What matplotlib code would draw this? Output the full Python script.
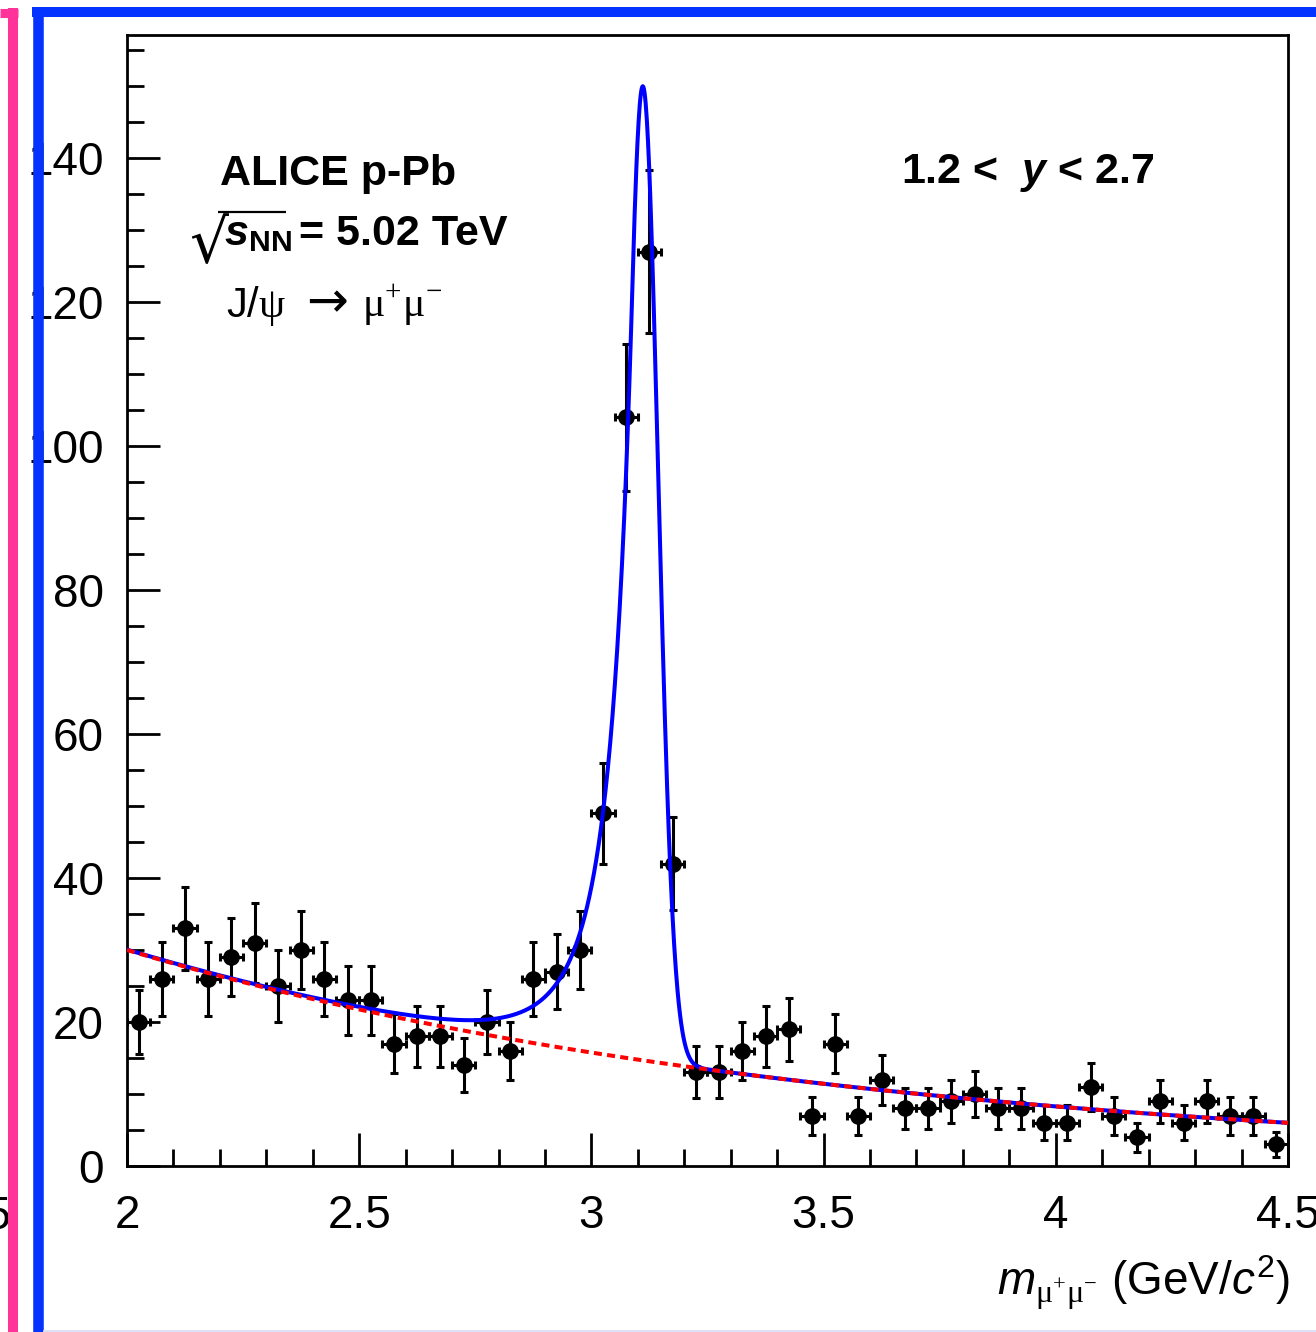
import numpy as np
import matplotlib.pyplot as plt
from matplotlib.lines import Line2D
from matplotlib.ticker import MultipleLocator, FixedLocator, FixedFormatter

plt.rcParams['font.family'] = ['Liberation Sans', 'DejaVu Sans']
plt.rcParams['mathtext.fontset'] = 'custom'
plt.rcParams['mathtext.rm'] = 'Liberation Serif'
plt.rcParams['mathtext.it'] = 'Liberation Sans:italic'
plt.rcParams['mathtext.bf'] = 'Liberation Sans:bold'
plt.rcParams['mathtext.bfit'] = 'Liberation Sans:italic:bold'
plt.rcParams['mathtext.sf'] = 'Liberation Sans'

# dimuon invariant mass spectrum, 50 MeV/c^2 bins from 2 to 4.5
bin_width = 0.05
mass_bins = np.arange(2.0, 4.5, bin_width) + bin_width / 2
counts = np.array([20, 26, 33, 26, 29, 31, 25, 30, 26, 23,
                   23, 17, 18, 18, 14, 20, 16, 26, 27, 30,
                   49, 104, 127, 42, 13, 13, 16, 18, 19, 7,
                   17, 7, 12, 8, 8, 9, 10, 8, 8, 6,
                   6, 11, 7, 4, 9, 6, 9, 7, 7, 3])

# fit parameters: exponential background + Crystal Ball signal
bkg_norm = 30.0      # background at m = 2 GeV/c^2
bkg_slope = 0.644
jpsi_amp = 135.3
jpsi_mean = 3.1107
jpsi_sigma = 0.033
cb_alpha = 0.7
cb_n = 4.0

x_ticks = [2, 2.5, 3, 3.5, 4, 4.5]
x_tick_labels = ['2', '2.5', '3', '3.5', '4', '4.5']
y_ticks = [0, 20, 40, 60, 80, 100, 120, 140]

blue = (0, 0, 1)
red = (1, 0, 0)
frame_blue = '#0433ff'
frame_pink = '#ff3399'

W, H = 1316, 1332
fig = plt.figure(figsize=(W / 100, H / 100), dpi=100)


def fx(px):
    return px / W


def fy(py):
    return 1 - py / H


def background(m):
    return bkg_norm * np.exp(-bkg_slope * (m - 2.0))


def crystal_ball(m):
    t = (m - jpsi_mean) / jpsi_sigma
    a = abs(cb_alpha)
    A = (cb_n / a) ** cb_n * np.exp(-a * a / 2)
    B = cb_n / a - a
    tail = A * np.clip(B - t, 1e-6, None) ** (-cb_n)
    core = np.exp(-t * t / 2)
    return jpsi_amp * np.where(t > -a, core, tail)


ax = fig.add_axes([fx(127), fy(1166), fx(1288) - fx(127), (1166 - 35) / H])

ax.errorbar(mass_bins, counts, xerr=bin_width / 2, yerr=np.sqrt(counts),
            fmt='o', color='black', ms=11, elinewidth=2.2,
            capsize=2.8, capthick=2.2, zorder=2)

m = np.linspace(2.0, 4.5, 2000)
ax.plot(m, background(m) + crystal_ball(m), color=blue, lw=2.9, zorder=3)
ax.plot(m, background(m), color=red, lw=2.9, dashes=(2, 1.3), zorder=4)

ax.set_xlim(2.0, 4.5)
ax.set_ylim(0, 157.08)

ax.xaxis.set_major_locator(FixedLocator(x_ticks))
ax.xaxis.set_major_formatter(FixedFormatter(x_tick_labels))
ax.xaxis.set_minor_locator(MultipleLocator(0.1))
ax.yaxis.set_major_locator(FixedLocator(y_ticks))
ax.yaxis.set_minor_locator(MultipleLocator(5))

ax.tick_params(which='both', direction='in', top=False, right=False,
               width=2, labelsize=33)
ax.tick_params(which='major', length=24)
ax.tick_params(which='minor', length=12)
ax.tick_params(axis='y', pad=16.5)
ax.tick_params(axis='x', pad=20)
for s in ax.spines.values():
    s.set_linewidth(2)

# labels
fig.text(fx(220), fy(185), 'ALICE p-Pb', fontsize=31, fontweight='bold',
         ha='left', va='baseline')

# sqrt(s_NN) = 5.02 TeV, radical sign with its bar
fig.text(fx(189), fy(263), '\u221a', fontsize=44, family='DejaVu Sans',
         ha='left', va='baseline')
fig.add_artist(Line2D([fx(218), fx(286)], [fy(211.5), fy(211.5)],
                      color='black', lw=1.6, solid_capstyle='butt'))
fig.text(fx(224), fy(245), r'$\mathbfit{s}_{\mathbf{NN}}$', fontsize=31,
         ha='left', va='baseline')
fig.text(fx(299), fy(245), '= 5.02 TeV', fontsize=31, fontweight='bold',
         ha='left', va='baseline')

# J/psi -> mu+ mu-
fig.text(fx(226), fy(317), r'J/$\mathrm{\psi}$', fontsize=30,
         ha='left', va='baseline')
fig.text(fx(327), fy(317), '\u2192', fontsize=36, family='DejaVu Sans',
         ha='center', va='baseline')
fig.text(fx(362), fy(317), r'$\mathrm{\mu}^{+}\mathrm{\mu}^{-}$', fontsize=30,
         ha='left', va='baseline')

fig.text(fx(901), fy(183), r'1.2 <  $\mathbfit{y}$ < 2.7', fontsize=31,
         fontweight='bold', ha='left', va='baseline')
fig.text(fx(1290), fy(1296),
         r'$m_{\mathrm{\mu}^{+}\mathrm{\mu}^{-}}$ (GeV/$c^{\mathsf{2}}$)',
         fontsize=33, ha='right', va='baseline')

# neighbouring pad fragments
fig.text(fx(11), fy(1229), '4.5', fontsize=33, ha='right', va='baseline')
fig.add_artist(Line2D([fx(13), fx(13)], [fy(8), fy(1332)], color=frame_pink,
                      lw=7.2, solid_capstyle='butt', zorder=10))
fig.add_artist(Line2D([fx(0), fx(18)], [fy(12.5), fy(12.5)], color=frame_pink,
                      lw=6.5, solid_capstyle='butt', zorder=10))
fig.add_artist(Line2D([fx(37.5), fx(37.5)], [fy(7), fy(1332)], color=frame_blue,
                      lw=7.6, solid_capstyle='butt', zorder=10))
fig.add_artist(Line2D([fx(32), fx(1316)], [fy(12), fy(12)], color=frame_blue,
                      lw=7.2, solid_capstyle='butt', zorder=10))
fig.add_artist(Line2D([fx(43), fx(1316)], [fy(1330.5), fy(1330.5)], color='#d6dcf7',
                      lw=1.2, solid_capstyle='butt', zorder=10))

fig.savefig('out.png', dpi=100)
